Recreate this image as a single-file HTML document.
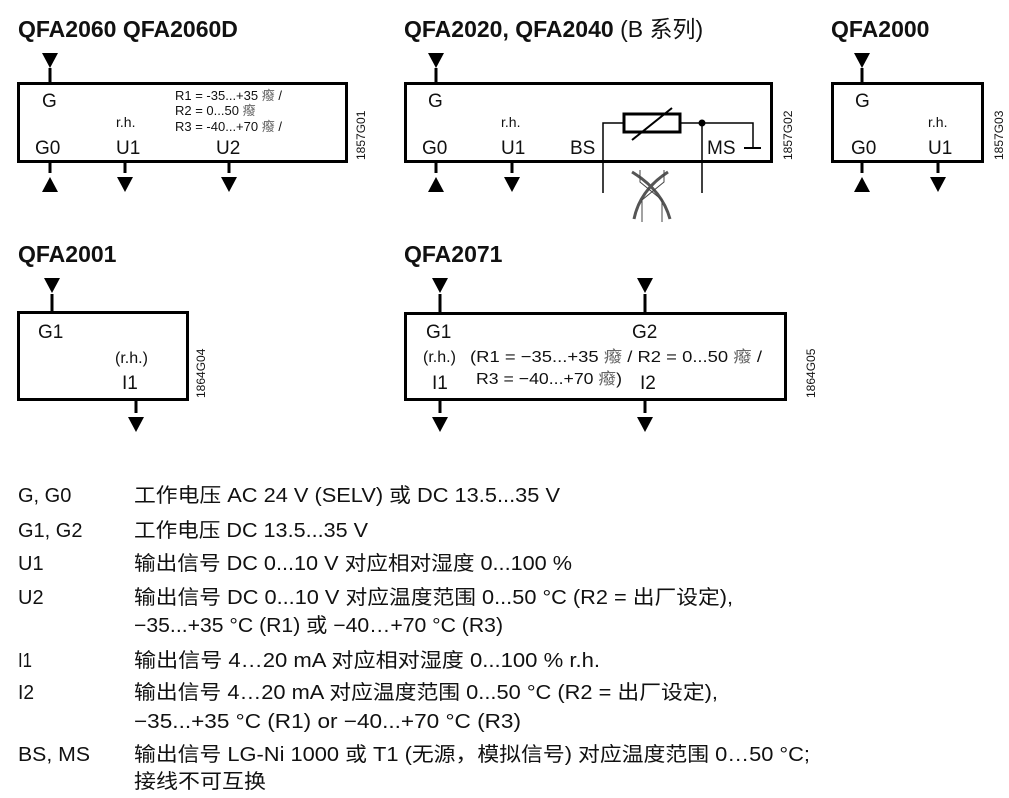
<!DOCTYPE html>
<html><head><meta charset="utf-8"><style>
html,body{margin:0;padding:0;background:#fff;width:1009px;height:798px;overflow:hidden}
svg{display:block}
text{font-family:"Liberation Sans","Noto Sans CJK SC",sans-serif;fill:#111}
.t{font-weight:bold;font-size:23px}
.l{font-size:20px}
.s{font-size:14px}
.m{font-size:16px}
.r{font-size:13px}
.v{font-size:12px}
.g{font-size:19px}
</style></head><body>
<svg width="1009" height="798" viewBox="0 0 1009 798">
<defs>
<path id="dn" d="M-8,0 L8,0 L0,15 Z" fill="#000"/>
<path id="up" d="M-8,15 L8,15 L0,0 Z" fill="#000"/>
</defs>
<g stroke="#000" fill="none">
<rect x="18.5" y="83.5" width="328" height="78" stroke-width="3"/>
<line x1="50" y1="68" x2="50" y2="83" stroke-width="3"/>
<line x1="50" y1="162" x2="50" y2="173" stroke-width="3"/>
<line x1="125" y1="162" x2="125" y2="173" stroke-width="3"/>
<line x1="229" y1="162" x2="229" y2="173" stroke-width="3"/>
<rect x="405.5" y="83.5" width="366" height="78" stroke-width="3"/>
<line x1="436" y1="68" x2="436" y2="83" stroke-width="3"/>
<line x1="436" y1="162" x2="436" y2="173" stroke-width="3"/>
<line x1="512" y1="162" x2="512" y2="173" stroke-width="3"/>
<rect x="624" y="114" width="56" height="18" stroke-width="3"/>
<line x1="632" y1="140" x2="672" y2="108" stroke-width="2"/>
<polyline points="624,123 603,123 603,193" stroke-width="1.5"/>
<polyline points="680,123 753,123 753,148" stroke-width="1.5"/>
<line x1="744" y1="148" x2="761" y2="148" stroke-width="2"/>
<line x1="702" y1="123" x2="702" y2="193" stroke-width="1.5"/>
<circle cx="702" cy="123" r="3" fill="#000"/>
<path d="M634,219 Q640,190 668,172" stroke="#555" stroke-width="3"/>
<path d="M632,172 Q662,190 670,219" stroke="#555" stroke-width="3"/>
<path d="M640,170 L640,182 L662,200 L662,222" stroke="#444" stroke-width="1"/>
<path d="M664,170 L664,182 L642,200 L642,222" stroke="#444" stroke-width="1"/>
<rect x="832.5" y="83.5" width="150" height="78" stroke-width="3"/>
<line x1="862" y1="68" x2="862" y2="83" stroke-width="3"/>
<line x1="862" y1="162" x2="862" y2="173" stroke-width="3"/>
<line x1="938" y1="162" x2="938" y2="173" stroke-width="3"/>
<rect x="18.5" y="312.5" width="169" height="87" stroke-width="3"/>
<line x1="52" y1="294" x2="52" y2="312" stroke-width="3"/>
<line x1="136" y1="400" x2="136" y2="413" stroke-width="3"/>
<rect x="405.5" y="313.5" width="380" height="86" stroke-width="3"/>
<line x1="440" y1="294" x2="440" y2="313" stroke-width="3"/>
<line x1="645" y1="294" x2="645" y2="313" stroke-width="3"/>
<line x1="440" y1="400" x2="440" y2="413" stroke-width="3"/>
<line x1="645" y1="400" x2="645" y2="413" stroke-width="3"/>
</g>
<use href="#dn" x="50" y="53"/>
<use href="#up" x="50" y="177"/>
<use href="#dn" x="125" y="177"/>
<use href="#dn" x="229" y="177"/>
<use href="#dn" x="436" y="53"/>
<use href="#up" x="436" y="177"/>
<use href="#dn" x="512" y="177"/>
<use href="#dn" x="862" y="53"/>
<use href="#up" x="862" y="177"/>
<use href="#dn" x="938" y="177"/>
<use href="#dn" x="52" y="278"/>
<use href="#dn" x="136" y="417"/>
<use href="#dn" x="440" y="278"/>
<use href="#dn" x="645" y="278"/>
<use href="#dn" x="440" y="417"/>
<use href="#dn" x="645" y="417"/>

<text class="t" x="18" y="37">QFA2060 QFA2060D</text>
<text x="404" y="37" class="t">QFA2020, QFA2040 <tspan font-weight="normal">(B 系列)</tspan></text>
<text class="t" x="831" y="37">QFA2000</text>
<text class="t" x="18" y="262">QFA2001</text>
<text class="t" x="404" y="262">QFA2071</text>

<text class="g" x="42" y="107">G</text>
<text class="s" x="116" y="127">r.h.</text>
<text class="g" x="35" y="154">G0</text>
<text class="g" x="116" y="154">U1</text>
<text class="g" x="216" y="154">U2</text>
<text class="r" x="175" y="100">R1 = -35...+35 <tspan fill="#666">癈</tspan> /</text>
<text class="r" x="175" y="115">R2 = 0...50 <tspan fill="#666">癈</tspan></text>
<text class="r" x="175" y="131">R3 = -40...+70 <tspan fill="#666">癈</tspan> /</text>
<text class="v" transform="translate(365,160) rotate(-90)">1857G01</text>

<text class="g" x="428" y="107">G</text>
<text class="s" x="501" y="127">r.h.</text>
<text class="g" x="422" y="154">G0</text>
<text class="g" x="501" y="154">U1</text>
<text class="g" x="570" y="154">BS</text>
<text class="g" x="707" y="154">MS</text>
<text class="v" transform="translate(792,160) rotate(-90)">1857G02</text>

<text class="g" x="855" y="107">G</text>
<text class="s" x="928" y="127">r.h.</text>
<text class="g" x="851" y="154">G0</text>
<text class="g" x="928" y="154">U1</text>
<text class="v" transform="translate(1003,160) rotate(-90)">1857G03</text>

<text class="g" x="38" y="338">G1</text>
<text class="m" x="115" y="363">(r.h.)</text>
<text class="g" x="122" y="389">I1</text>
<text class="v" transform="translate(205,398) rotate(-90)">1864G04</text>

<text class="g" x="426" y="338">G1</text>
<text class="g" x="632" y="338">G2</text>
<text class="m" x="423" y="362">(r.h.)</text>
<text class="m" x="470" y="362" textLength="292" lengthAdjust="spacingAndGlyphs">(R1 = −35...+35 <tspan fill="#666">癈</tspan> / R2 = 0...50 <tspan fill="#666">癈</tspan> /</text>
<text class="m" x="476" y="384" textLength="146" lengthAdjust="spacingAndGlyphs">R3 = −40...+70 <tspan fill="#666">癈</tspan>)</text>
<text class="g" x="432" y="389">I1</text>
<text class="g" x="640" y="389">I2</text>
<text class="v" transform="translate(815,398) rotate(-90)">1864G05</text>

<text class="l" x="18" y="502">G, G0</text>
<text class="l" x="134" y="502" textLength="426" lengthAdjust="spacingAndGlyphs">工作电压 AC 24 V (SELV) 或 DC 13.5...35 V</text>
<text class="l" x="18" y="537">G1, G2</text>
<text class="l" x="134" y="537" textLength="234" lengthAdjust="spacingAndGlyphs">工作电压 DC 13.5...35 V</text>
<text class="l" x="18" y="570">U1</text>
<text class="l" x="134" y="570" textLength="438" lengthAdjust="spacingAndGlyphs">输出信号 DC 0...10 V 对应相对湿度 0...100 %</text>
<text class="l" x="18" y="604">U2</text>
<text class="l" x="134" y="604" textLength="599" lengthAdjust="spacingAndGlyphs">输出信号 DC 0...10 V 对应温度范围 0...50 °C (R2 = 出厂设定),</text>
<text class="l" x="134" y="632" textLength="369" lengthAdjust="spacingAndGlyphs">−35...+35 °C (R1) 或 −40…+70 °C (R3)</text>
<text class="l" x="18" y="667" textLength="14" lengthAdjust="spacingAndGlyphs">I1</text>
<text class="l" x="134" y="667" textLength="466" lengthAdjust="spacingAndGlyphs">输出信号 4…20 mA 对应相对湿度 0...100 % r.h.</text>
<text class="l" x="18" y="699" textLength="16" lengthAdjust="spacingAndGlyphs">I2</text>
<text class="l" x="134" y="699" textLength="584" lengthAdjust="spacingAndGlyphs">输出信号 4…20 mA 对应温度范围 0...50 °C (R2 = 出厂设定),</text>
<text class="l" x="134" y="728" textLength="387" lengthAdjust="spacingAndGlyphs">−35...+35 °C (R1) or −40...+70 °C (R3)</text>
<text class="l" x="18" y="761" textLength="72" lengthAdjust="spacingAndGlyphs">BS, MS</text>
<text class="l" x="134" y="761" textLength="676" lengthAdjust="spacingAndGlyphs">输出信号 LG-Ni 1000 或 T1 (无源，模拟信号) 对应温度范围 0…50 °C;</text>
<text class="l" x="134" y="788" textLength="132" lengthAdjust="spacingAndGlyphs">接线不可互换</text>
</svg>
</body></html>
